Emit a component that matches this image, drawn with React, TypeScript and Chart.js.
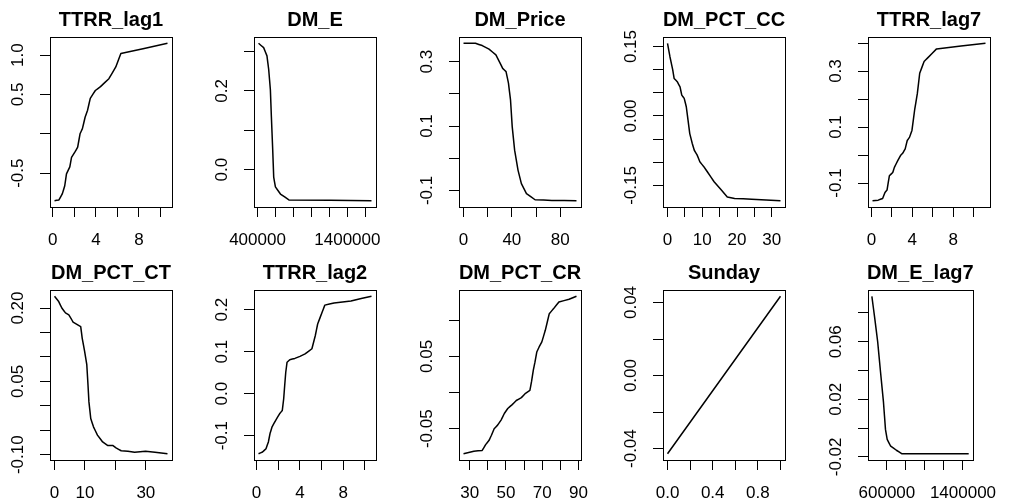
import React, { useEffect, useRef } from 'react';
import { Chart, registerables } from 'chart.js';

Chart.register(...registerables);

const FONT = '"Liberation Sans", Arial, Helvetica, sans-serif';

// ---- Panel titles ----
const titles = ['TTRR_lag1', 'DM_E', 'DM_Price', 'DM_PCT_CC', 'TTRR_lag7', 'DM_PCT_CT', 'TTRR_lag2', 'DM_PCT_CR', 'Sunday', 'DM_E_lag7'];

// ---- TTRR_lag1 ----
const ttrrLag1X = [0.16, 0.57, 0.89, 1.11, 1.27, 1.58, 1.74, 2.06, 2.31, 2.53, 2.75, 3.0, 3.23, 3.48, 3.95, 4.43, 5.21, 5.85, 6.32, 10.65];
const ttrrLag1Y = [-0.85, -0.84, -0.76, -0.66, -0.51, -0.42, -0.3, -0.23, -0.17, 0.0, 0.065, 0.21, 0.3, 0.45, 0.55, 0.6, 0.7, 0.85, 1.02, 1.15];
const ttrrLag1XTicks = [0, 2, 4, 6, 8, 10];
const ttrrLag1XLabels = ['0', '', '4', '', '8', ''];
const ttrrLag1YTicks = [-0.5, 0, 0.5, 1.0];
const ttrrLag1YLabels = ['-0.5', '', '0.5', '1.0'];

// ---- DM_E ----
const dmEX = [411000, 468000, 505000, 524000, 543000, 554000, 569000, 580000, 599000, 655000, 749000, 1668000];
const dmEY = [0.321, 0.31, 0.289, 0.255, 0.203, 0.135, 0.05, -0.019, -0.044, -0.062, -0.077, -0.079];
const dmEXTicks = [400000, 600000, 800000, 1000000, 1200000, 1400000, 1600000];
const dmEXLabels = ['400000', '', '', '', '', '1400000', ''];
const dmEYTicks = [0.0, 0.1, 0.2, 0.3];
const dmEYLabels = ['0.0', '', '0.2', ''];

// ---- DM_Price ----
const dmPriceX = [0, 9.9, 15.5, 21.1, 26.8, 31.0, 32.4, 35.2, 37.2, 38.9, 40.3, 42.3, 45.1, 47.9, 52.1, 59.2, 73.2, 93.5];
const dmPriceY = [0.357, 0.357, 0.35, 0.339, 0.321, 0.29, 0.279, 0.269, 0.233, 0.181, 0.098, 0.025, -0.037, -0.079, -0.11, -0.129, -0.131, -0.132];
const dmPriceXTicks = [0, 20, 40, 60, 80];
const dmPriceXLabels = ['0', '', '40', '', '80'];
const dmPriceYTicks = [-0.1, 0, 0.1, 0.2, 0.3];
const dmPriceYLabels = ['-0.1', '', '0.1', '', '0.3'];

// ---- DM_PCT_CC ----
const dmPctCcX = [0, 0.7, 1.5, 1.9, 2.8, 3.6, 4.1, 4.8, 5.4, 5.9, 6.4, 7.1, 7.7, 8.5, 9.3, 10.5, 11.5, 13.4, 17.2, 19.3, 24.2, 32.5];
const dmPctCcY = [0.157, 0.128, 0.0995, 0.081, 0.074, 0.063, 0.045, 0.038, 0.02, -0.009, -0.038, -0.059, -0.074, -0.084, -0.099, -0.11, -0.121, -0.142, -0.175, -0.178, -0.18, -0.183];
const dmPctCcXTicks = [0, 5, 10, 15, 20, 25, 30];
const dmPctCcXLabels = ['0', '', '10', '', '20', '', '30'];
const dmPctCcYTicks = [-0.15, -0.1, -0.05, 0, 0.05, 0.1, 0.15];
const dmPctCcYLabels = ['-0.15', '', '', '0.00', '', '', '0.15'];

// ---- TTRR_lag7 ----
const ttrrLag7X = [0.1, 0.66, 1.09, 1.32, 1.52, 1.75, 2.08, 2.24, 2.57, 2.84, 3.07, 3.3, 3.5, 3.73, 3.96, 4.22, 4.49, 4.72, 5.15, 5.48, 6.37, 11.16];
const ttrrLag7Y = [-0.163, -0.161, -0.155, -0.134, -0.125, -0.074, -0.062, -0.044, -0.02, -0.002, 0.007, 0.022, 0.052, 0.064, 0.088, 0.16, 0.22, 0.292, 0.334, 0.346, 0.379, 0.399];
const ttrrLag7XTicks = [0, 2, 4, 6, 8, 10];
const ttrrLag7XLabels = ['0', '', '4', '', '8', ''];
const ttrrLag7YTicks = [-0.1, 0, 0.1, 0.2, 0.3, 0.4];
const ttrrLag7YLabels = ['-0.1', '', '0.1', '', '0.3', ''];

// ---- DM_PCT_CT ----
const dmPctCtX = [0, 1.3, 2.4, 3.6, 4.7, 5.4, 6.1, 7.2, 8.6, 9.1, 9.9, 10.6, 11.0, 11.3, 11.9, 12.8, 14.1, 15.8, 17.4, 19.1, 20.2, 21.9, 24.1, 26.3, 29.9, 33.0, 37.1];
const dmPctCtY = [0.224, 0.214, 0.2, 0.19, 0.186, 0.179, 0.171, 0.167, 0.162, 0.138, 0.111, 0.084, 0.042, 0.008, -0.026, -0.043, -0.06, -0.074, -0.081, -0.081, -0.086, -0.092, -0.093, -0.095, -0.093, -0.095, -0.098];
const dmPctCtXTicks = [0, 10, 20, 30];
const dmPctCtXLabels = ['0', '10', '', '30'];
const dmPctCtYTicks = [-0.1, -0.05, 0, 0.05, 0.1, 0.15, 0.2];
const dmPctCtYLabels = ['-0.10', '', '', '0.05', '', '', '0.20'];

// ---- TTRR_lag2 ----
const ttrrLag2X = [0.19, 0.56, 0.88, 1.1, 1.25, 1.44, 1.76, 2.13, 2.38, 2.51, 2.6, 2.7, 2.82, 3.07, 3.54, 4.01, 4.48, 5.11, 5.42, 5.64, 6.05, 6.3, 7.15, 8.71, 10.6];
const ttrrLag2Y = [-0.143, -0.139, -0.131, -0.115, -0.095, -0.079, -0.064, -0.048, -0.04, -0.012, 0.019, 0.051, 0.075, 0.081, 0.084, 0.089, 0.095, 0.107, 0.138, 0.166, 0.194, 0.211, 0.216, 0.221, 0.232];
const ttrrLag2XTicks = [0, 2, 4, 6, 8, 10];
const ttrrLag2XLabels = ['0', '', '4', '', '8', ''];
const ttrrLag2YTicks = [-0.1, 0, 0.1, 0.2];
const ttrrLag2YLabels = ['-0.1', '0.0', '0.1', '0.2'];

// ---- DM_PCT_CR ----
const dmPctCrX = [26.6, 32.3, 36.9, 38.8, 40.7, 42.0, 43.5, 45.4, 47.3, 49.1, 51.0, 53.3, 55.7, 58.5, 60.8, 63.2, 64.1, 65.1, 66.0, 67.0, 68.3, 69.8, 71.7, 73.9, 76.3, 79.2, 84.8, 88.9];
const dmPctCrY = [-0.0845, -0.081, -0.08, -0.072, -0.066, -0.059, -0.05, -0.045, -0.038, -0.029, -0.022, -0.017, -0.011, -0.007, -0.001, 0.003, 0.015, 0.031, 0.042, 0.056, 0.063, 0.07, 0.086, 0.109, 0.116, 0.125, 0.129, 0.133];
const dmPctCrXTicks = [30, 40, 50, 60, 70, 80, 90];
const dmPctCrXLabels = ['30', '', '50', '', '70', '', '90'];
const dmPctCrYTicks = [-0.05, 0, 0.05, 0.1];
const dmPctCrYLabels = ['-0.05', '', '0.05', ''];

// ---- Sunday ----
const sundayX = [0, 1];
const sundayY = [-0.0428, 0.0434];
const sundayXTicks = [0, 0.2, 0.4, 0.6, 0.8, 1.0];
const sundayXLabels = ['0.0', '', '0.4', '', '0.8', ''];
const sundayYTicks = [-0.04, -0.02, 0, 0.02, 0.04];
const sundayYLabels = ['-0.04', '', '0.00', '', '0.04'];

// ---- DM_E_lag7 ----
const dmELag7X = [442000, 472000, 503000, 533000, 564000, 585000, 603000, 640000, 700000, 755000, 1004000, 1460000];
const dmELag7Y = [0.0916, 0.0764, 0.06, 0.039, 0.018, -0.0009, -0.0079, -0.0126, -0.0154, -0.0178, -0.0178, -0.0178];
const dmELag7XTicks = [600000, 800000, 1000000, 1200000, 1400000];
const dmELag7XLabels = ['600000', '', '', '', '1400000'];
const dmELag7YTicks = [-0.02, 0, 0.02, 0.04, 0.06, 0.08];
const dmELag7YLabels = ['-0.02', '', '0.02', '', '0.06', ''];

const panels = [
  { xs: ttrrLag1X, ys: ttrrLag1Y, xt: ttrrLag1XTicks, xl: ttrrLag1XLabels, yt: ttrrLag1YTicks, yl: ttrrLag1YLabels },
  { xs: dmEX, ys: dmEY, xt: dmEXTicks, xl: dmEXLabels, yt: dmEYTicks, yl: dmEYLabels },
  { xs: dmPriceX, ys: dmPriceY, xt: dmPriceXTicks, xl: dmPriceXLabels, yt: dmPriceYTicks, yl: dmPriceYLabels },
  { xs: dmPctCcX, ys: dmPctCcY, xt: dmPctCcXTicks, xl: dmPctCcXLabels, yt: dmPctCcYTicks, yl: dmPctCcYLabels },
  { xs: ttrrLag7X, ys: ttrrLag7Y, xt: ttrrLag7XTicks, xl: ttrrLag7XLabels, yt: ttrrLag7YTicks, yl: ttrrLag7YLabels },
  { xs: dmPctCtX, ys: dmPctCtY, xt: dmPctCtXTicks, xl: dmPctCtXLabels, yt: dmPctCtYTicks, yl: dmPctCtYLabels },
  { xs: ttrrLag2X, ys: ttrrLag2Y, xt: ttrrLag2XTicks, xl: ttrrLag2XLabels, yt: ttrrLag2YTicks, yl: ttrrLag2YLabels },
  { xs: dmPctCrX, ys: dmPctCrY, xt: dmPctCrXTicks, xl: dmPctCrXLabels, yt: dmPctCrYTicks, yl: dmPctCrYLabels },
  { xs: sundayX, ys: sundayY, xt: sundayXTicks, xl: sundayXLabels, yt: sundayYTicks, yl: sundayYLabels },
  { xs: dmELag7X, ys: dmELag7Y, xt: dmELag7XTicks, xl: dmELag7XLabels, yt: dmELag7YTicks, yl: dmELag7YLabels },
];

const CANVAS_W = 193;
const CANVAS_H = 250;
const colLefts = [0, 204, 409, 613, 818];
const rowTops = [0, 253];

function expand(vals: number[]) {
  const mn = Math.min(...vals);
  const mx = Math.max(...vals);
  const r = mx - mn;
  return [mn - 0.04 * r, mx + 0.04 * r];
}

function Panel({ idx }: { idx: number }) {
  const ref = useRef<HTMLCanvasElement | null>(null);
  useEffect(() => {
    const p = panels[idx];
    const title = titles[idx];
    const [xmin, xmax] = expand(p.xs);
    const [ymin, ymax] = expand(p.ys);
    const rPlugin = {
      id: 'rstyle',
      afterDraw(chart: any) {
        const { ctx, chartArea: a } = chart;
        ctx.save();
        ctx.strokeStyle = '#000';
        ctx.lineWidth = 1;
        ctx.strokeRect(Math.round(a.left) + 0.5, Math.round(a.top) + 0.5, Math.round(a.right - a.left), Math.round(a.bottom - a.top));
        ctx.fillStyle = '#000';
        ctx.textAlign = 'center';
        ctx.textBaseline = 'middle';
        ctx.font = `bold 20px ${FONT}`;
        ctx.fillText(title, (a.left + a.right) / 2, 20);
        ctx.font = `17px ${FONT}`;
        const ys = chart.scales.y;
        ys.ticks.forEach((t: any, i: number) => {
          const lab = p.yl[i];
          if (!lab) return;
          const py = ys.getPixelForValue(t.value);
          ctx.save();
          ctx.translate(a.left - 32, py);
          ctx.rotate(-Math.PI / 2);
          ctx.fillText(lab, 0, 0);
          ctx.restore();
        });
        ctx.restore();
      },
    };
    const chart = new Chart(ref.current as HTMLCanvasElement, {
      type: 'line',
      data: {
        datasets: [
          {
            data: p.xs.map((x, i) => ({ x, y: p.ys[i] })),
            borderColor: '#000',
            borderWidth: 1.5,
            pointRadius: 0,
            tension: 0.0001,
            fill: false,
            borderJoinStyle: 'round',
          } as any,
        ],
      },
      options: {
        responsive: false,
        maintainAspectRatio: false,
        animation: false,
        layout: { padding: { left: 0, right: CANVAS_W - 172, top: 37, bottom: 0 } },
        plugins: { legend: { display: false }, title: { display: false }, tooltip: { enabled: false } },
        scales: {
          x: {
            type: 'linear',
            min: xmin,
            max: xmax,
            afterBuildTicks: (s: any) => {
              s.ticks = p.xt.map((v) => ({ value: v }));
            },
            afterFit: (s: any) => {
              s.height = 43;
            },
            ticks: {
              autoSkip: false,
              maxRotation: 0,
              minRotation: 0,
              padding: 13,
              color: '#000',
              font: { family: FONT, size: 17 },
              callback: (_v: any, i: number) => p.xl[i],
            },
            grid: { drawOnChartArea: false, drawTicks: true, tickLength: 10, color: '#000', lineWidth: 1 },
            border: { display: true, color: '#000', width: 1 },
          },
          y: {
            type: 'linear',
            min: ymin,
            max: ymax,
            afterBuildTicks: (s: any) => {
              s.ticks = p.yt.map((v) => ({ value: v }));
            },
            afterFit: (s: any) => {
              s.width = 50;
            },
            ticks: { display: false, autoSkip: false, callback: (_v: any, i: number) => p.yl[i] },
            grid: { drawOnChartArea: false, drawTicks: true, tickLength: 10, color: '#000', lineWidth: 1 },
            border: { display: true, color: '#000', width: 1 },
          },
        },
      } as any,
      plugins: [rPlugin],
    });
    return () => chart.destroy();
  }, [idx]);
  const col = idx % 5;
  const row = Math.floor(idx / 5);
  return (
    <canvas
      ref={ref}
      width={CANVAS_W}
      height={CANVAS_H}
      style={{ position: 'absolute', left: colLefts[col], top: rowTops[row], width: CANVAS_W, height: CANVAS_H }}
    />
  );
}

export default function App() {
  return (
    <div style={{ position: 'absolute', left: 0, top: 0, width: 1011, height: 504, background: '#fff', overflow: 'hidden' }}>
      {panels.map((_, i) => (
        <Panel key={i} idx={i} />
      ))}
    </div>
  );
}
